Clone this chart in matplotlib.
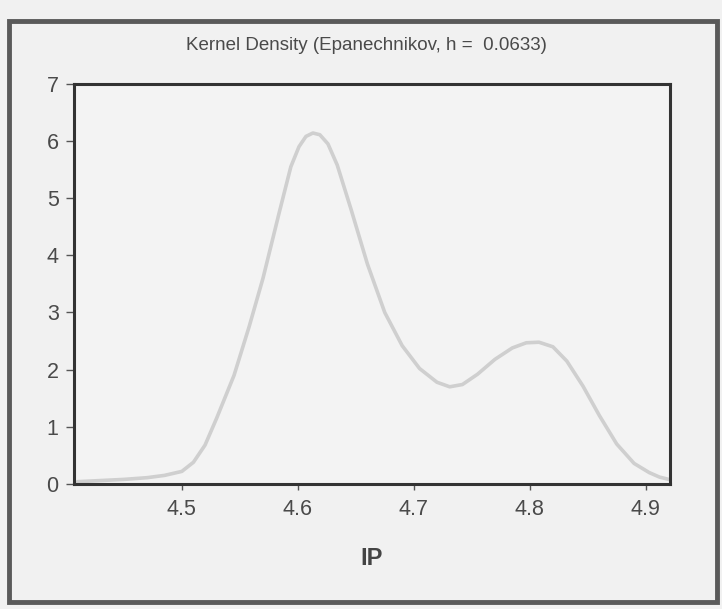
import numpy as np
import matplotlib
matplotlib.use('Agg')
import matplotlib.pyplot as plt
from matplotlib.patches import Rectangle

# values
ip = [4.410, 4.430, 4.450, 4.470, 4.485, 4.500, 4.510, 4.520, 4.530, 4.545,
      4.558, 4.570, 4.584, 4.594, 4.601, 4.607, 4.613, 4.619, 4.626, 4.634,
      4.646, 4.660, 4.675, 4.690, 4.705, 4.720, 4.731, 4.742, 4.755, 4.770,
      4.785, 4.797, 4.808, 4.820, 4.832, 4.846, 4.860, 4.875, 4.890, 4.903,
      4.912, 4.920]
density = [0.04, 0.06, 0.08, 0.11, 0.15, 0.22, 0.38, 0.68, 1.15, 1.90,
           2.75, 3.60, 4.75, 5.55, 5.90, 6.08, 6.14, 6.11, 5.95, 5.58,
           4.80, 3.85, 3.00, 2.42, 2.02, 1.78, 1.70, 1.74, 1.92, 2.18,
           2.38, 2.47, 2.48, 2.40, 2.15, 1.71, 1.20, 0.70, 0.36, 0.20,
           0.12, 0.08]

title = 'Kernel Density (Epanechnikov, h =  0.0633)'
xlabel = 'IP'
xticks = [4.5, 4.6, 4.7, 4.8, 4.9]
yticks = [0, 1, 2, 3, 4, 5, 6, 7]

plt.rcParams['font.family'] = ['Liberation Sans', 'DejaVu Sans']

fig = plt.figure(figsize=(7.22, 6.09), dpi=100, facecolor='#f1f1f1')

# outer frame of the graph window
fig.patches.append(Rectangle((0.013, 0.012), 0.98, 0.953, transform=fig.transFigure,
                             fill=False, edgecolor='#5a5a5a', linewidth=3.5))

ax = fig.add_axes([0.1025, 0.2053, 0.8255, 0.657])
ax.set_facecolor('#f3f3f3')
ax.plot(ip, density, color='#cfcfcf', linewidth=2.6, solid_joinstyle='round',
        solid_capstyle='round')

ax.set_xlim(4.407, 4.921)
ax.set_ylim(0, 7)
ax.set_xticks(xticks)
ax.set_xticklabels(['{:.1f}'.format(v) for v in xticks])
ax.set_yticks(yticks)

for s in ax.spines.values():
    s.set_linewidth(2.2)
    s.set_color('#333333')

ax.tick_params(axis='both', direction='out', width=1, color='#555555',
               labelsize=15.5, labelcolor='#4a4a4a')
ax.tick_params(axis='x', length=4.5, pad=6)
ax.tick_params(axis='y', length=6, pad=5)

ax.set_xlabel(xlabel, fontsize=17, fontweight='bold', color='#444444', labelpad=20)
fig.text(0.507, 0.925, title, ha='center', va='center', fontsize=13.5, color='#4a4a4a')

fig.savefig('out.png', dpi=100, facecolor=fig.get_facecolor())
